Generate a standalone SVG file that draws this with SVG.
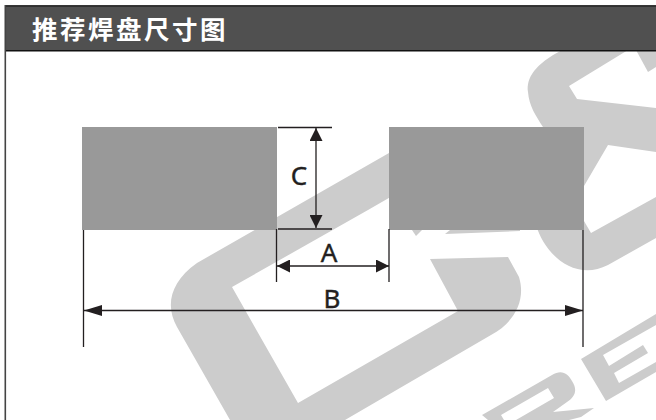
<svg xmlns="http://www.w3.org/2000/svg" width="656" height="420" viewBox="0 0 656 420">
<style>
.wm{fill:#ccc}
.pad{fill:#999}
.ln{stroke:#231f20;stroke-width:1.3;fill:none}
.lbl{font-family:"Noto Sans","Open Sans","Liberation Sans",sans-serif;font-size:26px;fill:#231f20;stroke:#231f20;stroke-width:.4;text-anchor:middle}
.ttl{font-family:"Noto Sans CJK SC","Noto Sans",sans-serif;font-size:25.5px;font-weight:700;fill:#fff;letter-spacing:2.5px}
</style>
<defs>
<marker id="a1" markerUnits="userSpaceOnUse" markerWidth="14" markerHeight="13" refX="13" refY="6.5" orient="auto-start-reverse"><path d="M0 0L13 6.5L0 13Z" fill="#231f20"/></marker>
<marker id="a2" markerUnits="userSpaceOnUse" markerWidth="18" markerHeight="11" refX="18" refY="5.5" orient="auto-start-reverse"><path d="M0 0L18 5.5L0 11Z" fill="#231f20"/></marker>
</defs>
<rect width="656" height="420" fill="#fff"/>
<g id="watermark">
<path class="wm" d="M230 420L177 327C165 306 170 282 197 263L389 153L420 135V180L368 210L232 287L298 403L458 311L430 259L508 257L519 277C526 300 515 322 491 335L345 420Z"/>
<path class="wm" d="M562 50C535 64 526 78 528 92C529 106 536 116 543 127L584 186L608 145L656 152V108L577 99L569 86L628 50Z"/>
<path class="wm" d="M636 50L648 72L656 67V50Z"/>
<path class="wm" d="M656 197L591 233L584 221L560 200L536 225C545 255 575 282 608 265L656 238Z"/>
<path class="wm" d="M412 230H422L416 236Z"/>
<path class="wm" d="M445 234L450 230H520V231Z"/>
<path class="wm" d="M581 359L656 314V325L603 355L609 366L643 345L648 353L614 373L619 383L656 362V372L606 401Z"/>
<path class="wm" d="M482 415L552 375C562 369 568 374 572 381C578 390 575 397 567 402L553 412L594 408L581 417L569 420H516L554 398L548 388L501 415L504 420H488Z"/>
</g>
<g id="frame">
<rect x="5" y="5.5" width="651" height="45.5" fill="#505050"/>
<path d="M5 5.8H656" stroke="#111" stroke-width="1.2"/>
<path d="M5 50.8H656" stroke="#111" stroke-width="1.6"/>
<path d="M5.3 5V420" stroke="#444" stroke-width="1.6"/>
</g>
<g id="title"><text class="ttl" x="32" y="38.5">推荐焊盘尺寸图</text></g>
<g id="pad-left"><rect class="pad" x="82" y="127" width="195" height="103"/></g>
<g id="pad-right"><rect class="pad" x="389" y="127" width="195" height="103"/></g>
<g id="connectors">
<path class="ln" d="M278 127.5H332M278 229H332M276.5 229V282M389 229V282M83.5 230V347M583 230V347"/>
<path class="ln" d="M316 128V228" marker-start="url(#a1)" marker-end="url(#a1)"/>
<path class="ln" d="M277 266H389" marker-start="url(#a1)" marker-end="url(#a1)"/>
<path class="ln" d="M84 310.5H583" marker-start="url(#a2)" marker-end="url(#a2)"/>
</g>
<g id="labels">
<text class="lbl" x="299" y="185">C</text>
<text class="lbl" x="329" y="262">A</text>
<text class="lbl" x="332" y="308">B</text>
</g>
</svg>
